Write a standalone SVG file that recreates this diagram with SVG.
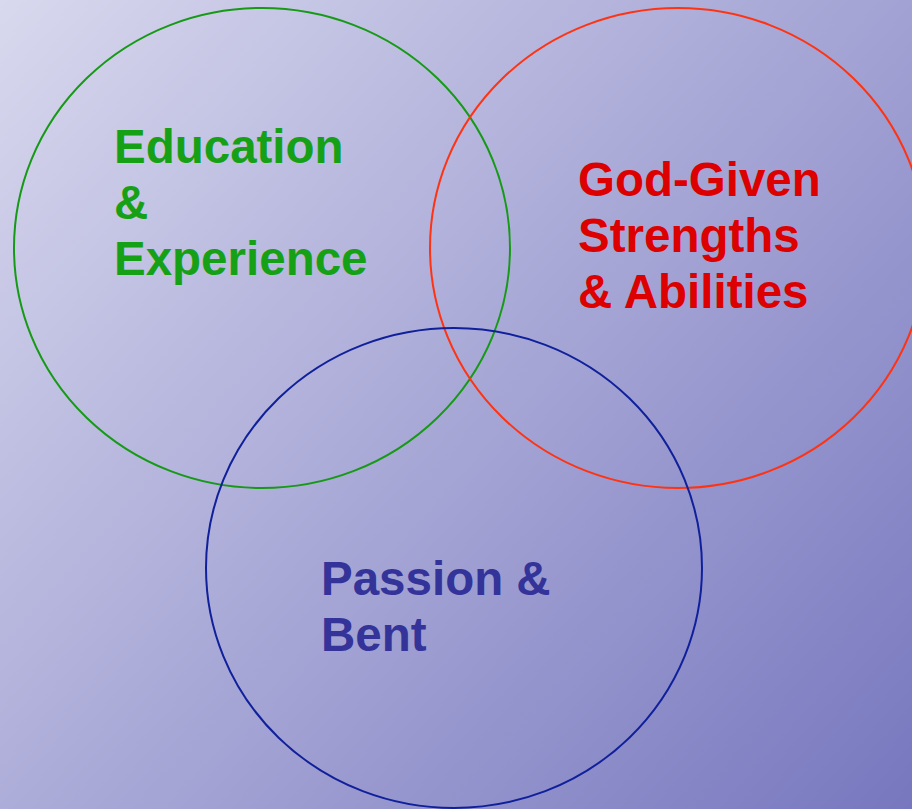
<svg xmlns="http://www.w3.org/2000/svg" width="912" height="809" viewBox="0 0 912 809">
<defs>
<linearGradient id="bg" x1="0" y1="0" x2="912" y2="809" gradientUnits="userSpaceOnUse">
<stop offset="0" stop-color="#d8d8ee"/>
<stop offset="1" stop-color="#7777bf"/>
</linearGradient>
</defs>
<style>
.c{fill:none;stroke-width:2}
.t{font-family:"Liberation Sans",Arial,sans-serif;font-weight:bold;font-size:47.5px}
</style>
<rect width="912" height="809" fill="url(#bg)"/>
<g id="education">
<ellipse class="c" cx="262" cy="248" rx="248" ry="240" stroke="#169a16"/>
<text class="t" fill="#16a016"><tspan x="114" y="163">Education</tspan><tspan x="114" y="219">&amp;</tspan><tspan x="114" y="275">Experience</tspan></text>
</g>
<g id="strengths">
<ellipse class="c" cx="678" cy="248" rx="248" ry="240" stroke="#ff3311"/>
<text class="t" fill="#dd0000"><tspan x="578" y="196">God-Given</tspan><tspan x="578" y="252">Strengths</tspan><tspan x="578" y="308">&amp; Abilities</tspan></text>
</g>
<g id="passion">
<ellipse class="c" cx="454" cy="568" rx="248" ry="240" stroke="#10209a"/>
<text class="t" fill="#333399"><tspan x="321" y="595">Passion &amp;</tspan><tspan x="321" y="651">Bent</tspan></text>
</g>
<g id="connectors"/>
</svg>
